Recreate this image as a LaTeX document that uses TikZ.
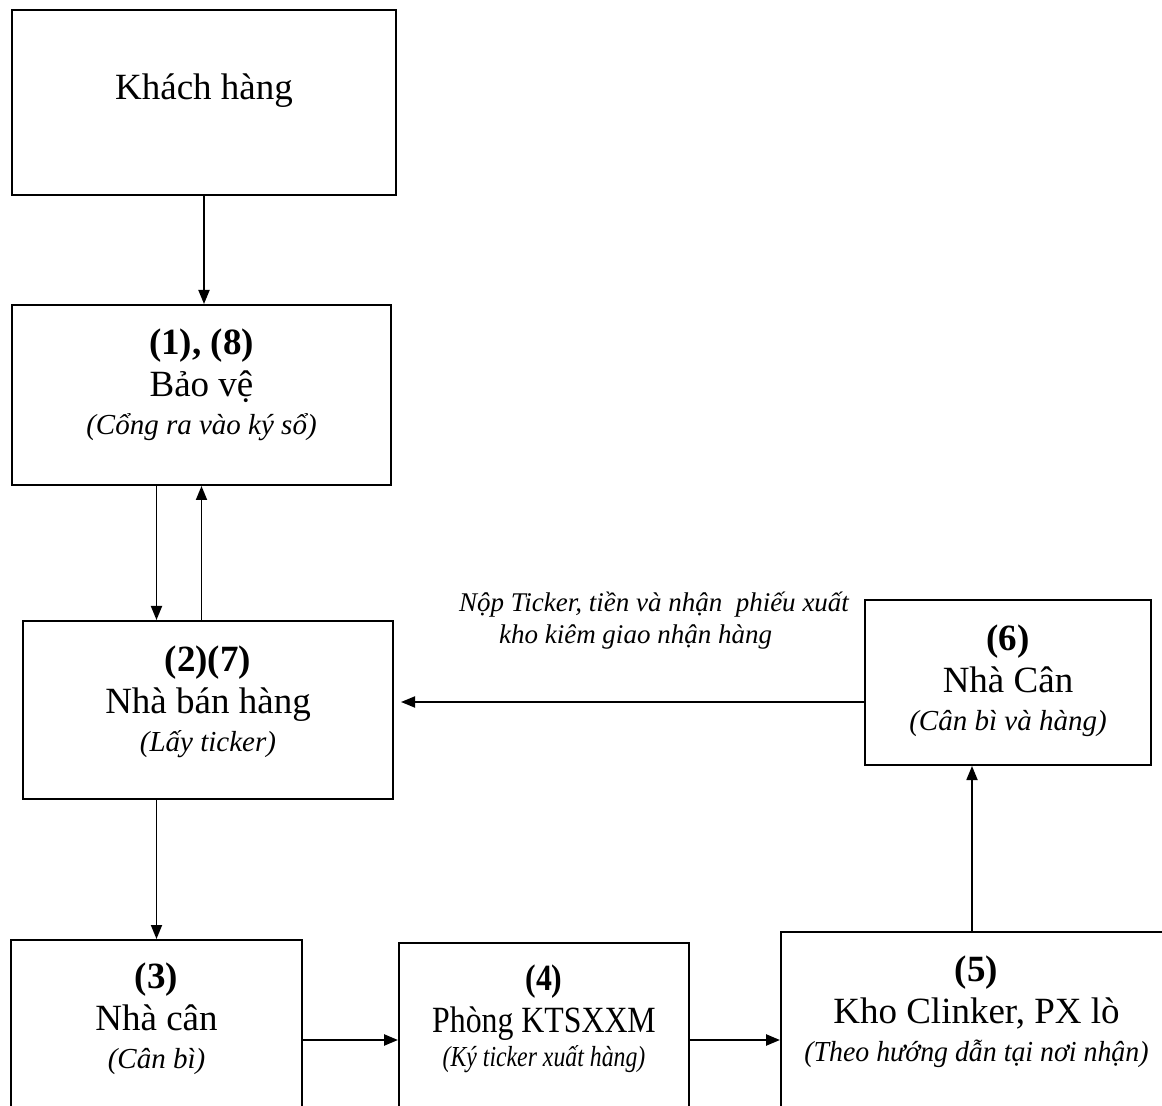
\documentclass[tikz,border=0pt]{standalone}
\usepackage{fontspec}
\setmainfont{Liberation Serif}
\newfontfamily\narrowfont[FakeStretch=0.86]{Liberation Serif}
\usetikzlibrary{arrows.meta}
\newcommand{\subtxt}[1]{{\fontsize{14.5}{17}\selectfont\itshape #1}}

\begin{document}
\begin{tikzpicture}[x=0.5pt,y=-0.5pt,
		box/.style={draw,line width=1pt,inner sep=0pt},
		txt/.style={align=center,font=\fontsize{18.5}{21}\selectfont},
		note/.style={align=left,font=\fontsize{13.5}{16}\selectfont\itshape},
		arr/.style={line width=0.9pt,-{Triangle[length=7pt,width=5.5pt]}}]
		\path[use as bounding box,clip] (0,0) rectangle (1162,1106);
		\node[box,minimum width=192pt,minimum height=92.5pt,label={[txt,yshift=6pt]center:{Khách hàng}}] (kh) at (204,102.5) {};
		\node[box,minimum width=189.5pt,minimum height=90pt,label={[txt,yshift=5pt]center:{\textbf{(1), (8)}\\Bảo vệ\\[-2pt]\subtxt{(Cổng ra vào ký sổ)}}}] (bv) at (201.5,395) {};
		\node[box,minimum width=185pt,minimum height=89pt,label={[txt,yshift=4pt]center:{\textbf{(2)(7)}\\Nhà bán hàng\\[-2pt]\subtxt{(Lấy ticker)}}}] (nbh) at (208,710) {};
		\node[box,minimum width=143pt,minimum height=82.5pt,label={[txt,yshift=1pt]center:{\textbf{(6)}\\Nhà Cân\\[-2pt]\subtxt{(Cân bì và hàng)}}}] (nc6) at (1008,682.5) {};
		\node[box,minimum width=145.5pt,minimum height=150pt,label={[txt,yshift=35.5pt]center:{\textbf{(3)}\\Nhà cân\\[-2pt]\subtxt{(Cân bì)}}}] (nc3) at (156.5,1090) {};
		\node[box,minimum width=145pt,minimum height=150pt,label={[txt,font=\fontsize{18.5}{21}\narrowfont,yshift=37pt]center:{\textbf{(4)}\\Phòng KTSXXM\\[-4pt]{\fontsize{14.5}{17}\selectfont\itshape\addfontfeature{FakeStretch=0.82}(Ký ticker xuất hàng)}}}] (kt4) at (544,1093) {};
		\node[box,minimum width=209.5pt,minimum height=150pt,label={[txt,xshift=-7pt,yshift=35pt]center:{\textbf{(5)}\\Kho Clinker, PX lò\\[-2pt]{\fontsize{14.5}{17}\selectfont\itshape\addfontfeature{FakeStretch=0.96}(Theo hướng dẫn tại nơi nhận)}}}] (kho5) at (990.5,1082) {};
		\node[note] (lbl) at (654,621) {Nộp Ticker, tiền và nhận\ \ phiếu xuất\\\hspace*{20pt}kho kiêm giao nhận hàng};
		\coordinate (row) at (0,1040);
		\coordinate (col) at (972,0);
		\coordinate (back) at (0,702);
		\draw[arr] (kh.south) -- (kh.south |- bv.north);
		\draw[arr] (bv.south -| nc3.north) -- (nbh.north -| nc3.north);
		\draw[arr] (nbh.north -| bv.south) -- (bv.south);
		\draw[arr] (nbh.south -| nc3.north) -- (nc3.north);
		\draw[arr,line width=1.2pt] (nc3.east |- row) -- (kt4.west |- row);
		\draw[arr,line width=1.2pt] (kt4.east |- row) -- (kho5.west |- row);
		\draw[arr] (kho5.north -| col) -- (nc6.south -| col);
		\draw[arr,shorten >=3.5pt] (nc6.west |- back) -- (nbh.east |- back);
	\end{tikzpicture}
\end{document}
